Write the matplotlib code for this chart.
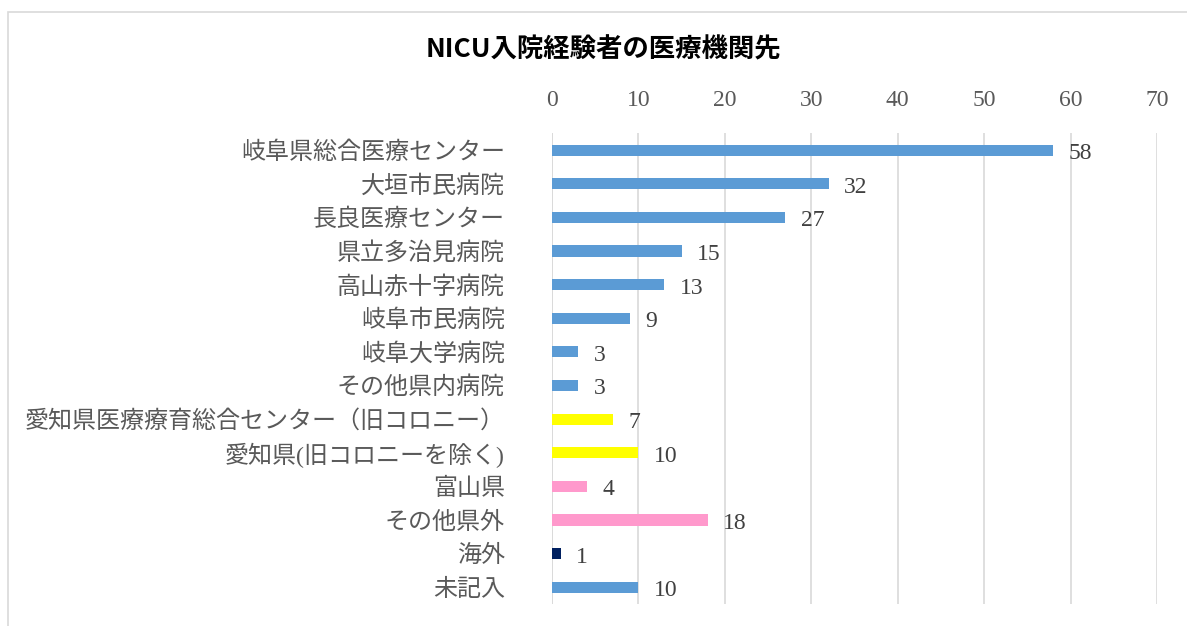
import matplotlib
matplotlib.use("Agg")
import matplotlib.pyplot as plt
from matplotlib.patches import Rectangle

plt.rcParams['font.family'] = ['Liberation Serif', 'Noto Sans CJK JP', 'DejaVu Sans']

# data
hospitals = ['岐阜県総合医療センター', '大垣市民病院', '長良医療センター', '県立多治見病院',
             '高山赤十字病院', '岐阜市民病院', '岐阜大学病院', 'その他県内病院',
             '愛知県医療療育総合センター（旧コロニー）', '愛知県(旧コロニーを除く)',
             '富山県', 'その他県外', '海外', '未記入']
counts = [58, 32, 27, 15, 13, 9, 3, 3, 7, 10, 4, 18, 1, 10]
colours = ['#5B9BD5'] * 8 + ['#FFFF00'] * 2 + ['#FF99CC'] * 2 + ['#002060', '#5B9BD5']
xticks = [0, 10, 20, 30, 40, 50, 60, 70]

txt = '#595959'

fig = plt.figure(figsize=(11.87, 6.26), dpi=100)
fig.patches.append(Rectangle((8 / 1187, -0.01), 1.0, 1 - 12 / 626 + 0.01,
                             transform=fig.transFigure, fill=False,
                             edgecolor='#D9D9D9', linewidth=1.2))

ax = fig.add_axes([552 / 1187, 0.035, (1157 - 552) / 1187, 0.752])
ypos = list(range(len(hospitals)))
ax.barh(ypos, counts, height=0.33, color=colours, zorder=3)

for y, v in zip(ypos, counts):
    ax.text(v + 1.8, y + 0.1, str(v), va='center', ha='left',
            fontsize=17, color='#404040')

ax.set_xlim(0, 70)
ax.set_ylim(len(hospitals) - 0.5, -0.5)
ax.set_xticks(xticks)
ax.xaxis.tick_top()
ax.tick_params(axis='x', length=0, pad=16, labelsize=17, labelcolor=txt)
ax.set_yticks(ypos)
ax.set_yticklabels(hospitals, fontsize=17.3, color=txt)
ax.tick_params(axis='y', length=0, pad=34)
ax.grid(axis='x', color='#D9D9D9', linewidth=1.2, zorder=0)
for s in ax.spines.values():
    s.set_visible(False)
ax.axvline(0, color='#D9D9D9', linewidth=1.2, zorder=1)

fig.text(603 / 1187, 1 - 50 / 626, 'NICU入院経験者の医療機関先', ha='center', va='center',
         fontsize=19, fontweight='bold', color='black',
         family=['Noto Sans CJK JP', 'DejaVu Sans'])

fig.savefig('out.png', dpi=100)
